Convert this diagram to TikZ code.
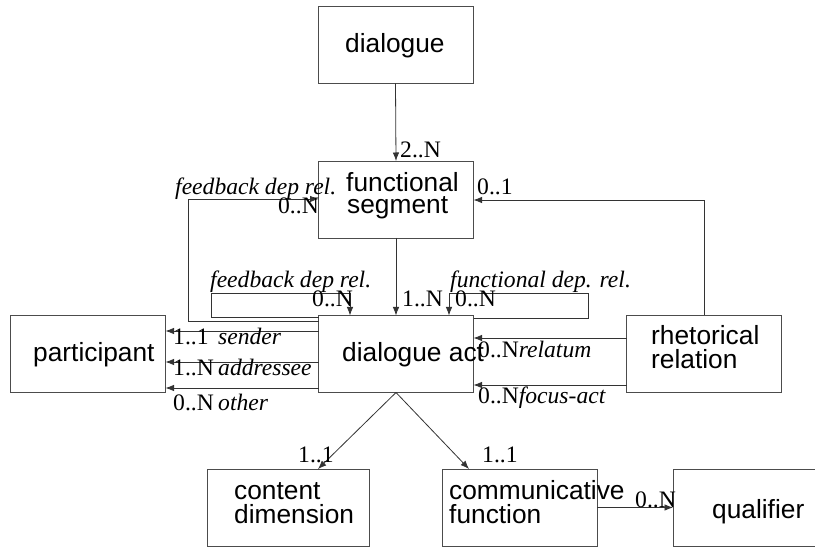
\documentclass[tikz,border=0pt]{standalone}
\usepackage{fontspec}
\setmainfont{Liberation Serif}
\newfontfamily\boxfont{Liberation Sans}
\usetikzlibrary{arrows.meta}
\tikzset{
  box/.style={draw=black!70, line width=0.8pt, minimum width=155pt, minimum height=77pt, inner sep=0pt, outer sep=0pt},
  btxt/.style={anchor=base west, inner sep=0pt, font=\boxfont\fontsize{26.3}{26}\selectfont},
  lbl/.style={anchor=base west, inner sep=0pt, font=\fontsize{23.6}{23}\selectfont},
  lblr/.style={anchor=base east, inner sep=0pt, font=\fontsize{23.6}{23}\selectfont},
  conn/.style={draw=black!80, line width=0.8pt},
  arr/.style={conn, -{Latex[length=8.5pt,width=6.5pt]}}
}
\begin{document}
\begin{tikzpicture}[x=1pt,y=-1pt]
\clip (0,0) rectangle (815,548);
\fill[white] (0,0) rectangle (815,548);
% boxes
\node[box] (dlg) at (395.5,45) {};
\node[box] (seg) at (396,199.5) {};
\node[box] (act) at (396,354) {};
\node[box] (part) at (88,353.5) {};
\node[box] (rhet) at (704,353.5) {};
\node[box, minimum width=162pt] (cont) at (288,507.5) {};
\node[box] (comm) at (519.5,507.5) {};
\node[box] (qual) at (750.5,507.5) {};
% box texts
\node[btxt] (t1) at (345,53) {dialogue};
\node[btxt] (t2) at (346,192) {functional};
\node[btxt] (t3) at (347,214) {segment};
\node[btxt] (t4) at (342,362) {dialogue act};
\node[btxt] (t5) at (33,362) {participant};
\node[btxt] (t6) at (651,345) {rhetorical};
\node[btxt] (t7) at (651,369) {relation};
\node[btxt] (t8) at (234,499) {content};
\node[btxt] (t9) at (234,523) {dimension};
\node[btxt] (t10) at (449,499) {communicative};
\node[btxt] (t11) at (449,523) {function};
\node[btxt] (t12) at (712,518) {qualifier};
% coordinates for connector corners
\coordinate (fa) at (188,321);
\coordinate (fb) at (188,199);
\coordinate (ga) at (211,317);
\coordinate (gb) at (211,293);
\coordinate (gc) at (350,293);
\coordinate (ha) at (588,318);
\coordinate (hb) at (588,293);
\coordinate (hc) at (449,293);
\coordinate (ra) at (704,200);
% connectors
\draw[arr] (dlg.south) -- (seg.north);
\draw[arr] (seg.south) -- (act.north);
\draw[arr] (act.west |- fa) -- (fa) -- (fb) -- (seg.west |- fb);
\draw[arr] (act.west |- ga) -- (ga) -- (gb) -- (gc) -- (gc |- act.north);
\draw[arr] (act.east |- ha) -- (ha) -- (hb) -- (hc) -- (hc |- act.north);
\draw[arr] (rhet.north) -- (ra) -- (seg.east |- ra);
\draw[arr] (act.west |- 0,331) -- (part.east |- 0,331);
\draw[arr] (act.west |- 0,362) -- (part.east |- 0,362);
\draw[arr] (act.west |- 0,388) -- (part.east |- 0,388);
\draw[arr] (rhet.west |- 0,338) -- (act.east |- 0,338);
\draw[arr] (rhet.west |- 0,385) -- (act.east |- 0,385);
\draw[arr] (act.south) -- (cont.north -| 318,0);
\draw[arr] (act.south) -- (comm.north -| 469,0);
\draw[arr] (comm.east) -- (qual.west);
% labels
\node[lbl] (l1) at (400,158) {2..N};
\node[lbl] (l2) at (175,195) {\itshape feedback dep rel.};
\node[lblr] (l3) at (319,214) {0..N};
\node[lbl] (l4) at (210,288) {\itshape feedback dep rel.};
\node[lbl] (l5) at (312,307) {0..N};
\node[lbl] (l6) at (402,307) {1..N};
\node[lbl] (l7) at (455,307) {0..N};
\node[lbl] (l8) at (450,288) {\itshape functional dep. rel.};
\node[lbl] (l9) at (477,195) {0..1};
\node[lbl] (l10) at (173,345) {\makebox[45pt][l]{1..1}\textit{sender}};
\node[lbl] (l11) at (173,376) {\makebox[45pt][l]{1..N}\textit{addressee}};
\node[lbl] (l12) at (173,410) {\makebox[45pt][l]{0..N}\textit{other}};
\node[lbl] (l13) at (478,358) {0..N\textit{relatum}};
\node[lbl] (l14) at (478,403) {0..N\textit{focus-act}};
\node[lbl] (l15) at (298,462) {1..1};
\node[lbl] (l16) at (482,462) {1..1};
\node[lbl] (l17) at (635,507) {0..N};
\end{tikzpicture}
\end{document}
